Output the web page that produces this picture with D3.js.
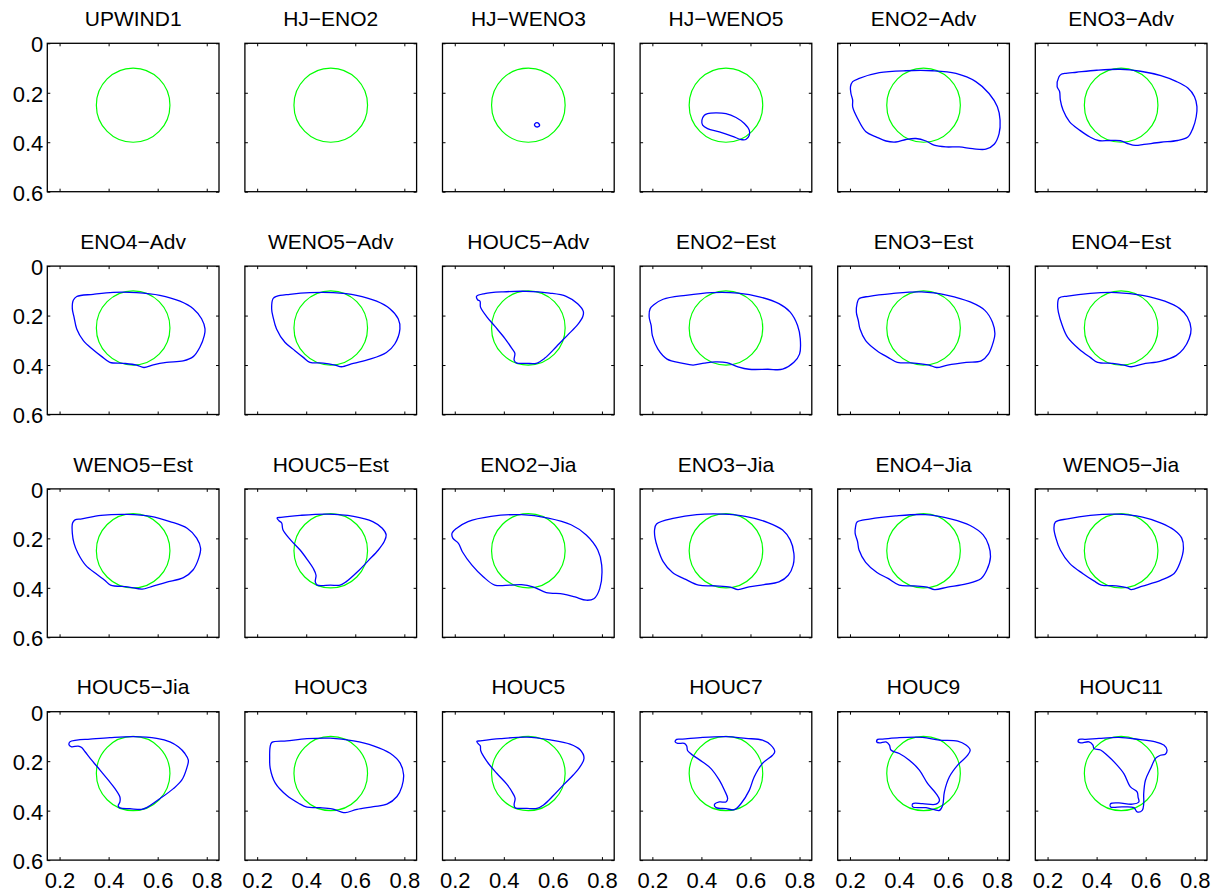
<!DOCTYPE html>
<html>
<head>
<meta charset="utf-8">
<script src="https://cdn.jsdelivr.net/npm/d3@7"></script>
<style>
  html, body { margin: 0; padding: 0; background: #fff; }
  svg text { font-family: "Liberation Sans", Arial, Helvetica, sans-serif; fill: #000; }
</style>
</head>
<body>
<svg id="chart" width="1218" height="892"></svg>
<script>
// Panel titles, in reading order (6 columns x 4 rows)
const titles = [
  "UPWIND1", "HJ\u2212ENO2", "HJ\u2212WENO3", "HJ\u2212WENO5", "ENO2\u2212Adv", "ENO3\u2212Adv",
  "ENO4\u2212Adv", "WENO5\u2212Adv", "HOUC5\u2212Adv", "ENO2\u2212Est", "ENO3\u2212Est", "ENO4\u2212Est",
  "WENO5\u2212Est", "HOUC5\u2212Est", "ENO2\u2212Jia", "ENO3\u2212Jia", "ENO4\u2212Jia", "WENO5\u2212Jia",
  "HOUC5\u2212Jia", "HOUC3", "HOUC5", "HOUC7", "HOUC9", "HOUC11"
];

// Axis ranges and ticks
const xDomain = [0.15, 0.85];
const yDomain = [0, 0.6];
const xTicks = [0.2, 0.4, 0.6, 0.8];
const yTicks = [0, 0.2, 0.4, 0.6];
const xTickLabels = ["0.2", "0.4", "0.6", "0.8"];
const yTickLabels = ["0", "0.2", "0.4", "0.6"];

// Exact interface: circle of radius 0.15 centred at (0.5, 0.25)
const circleCenter = [0.5, 0.25];
const circleRadius = 0.15;

// Computed interfaces (x, y) for each scheme
const upwind1 = null;
const hjEno2 = null;
const hjWeno3 = [[0.527,0.325],[0.535,0.321],[0.543,0.325],[0.546,0.332],[0.539,0.338],[0.530,0.337],[0.525,0.331]];
const hjWeno5 = [[0.412,0.291],[0.402,0.311],[0.405,0.331],[0.425,0.345],[0.473,0.358],[0.527,0.376],[0.561,0.389],[0.581,0.389],[0.595,0.372],[0.595,0.351],[0.575,0.324],[0.541,0.300],[0.500,0.284],[0.459,0.281],[0.425,0.284]];
const eno2Adv = [[0.211,0.155],[0.202,0.176],[0.204,0.203],[0.211,0.230],[0.211,0.257],[0.231,0.304],[0.265,0.358],[0.306,0.378],[0.347,0.395],[0.387,0.399],[0.428,0.389],[0.469,0.385],[0.510,0.395],[0.543,0.412],[0.591,0.419],[0.645,0.419],[0.700,0.426],[0.754,0.428],[0.788,0.408],[0.808,0.365],[0.812,0.311],[0.801,0.257],[0.767,0.203],[0.713,0.155],[0.632,0.122],[0.537,0.111],[0.428,0.111],[0.320,0.119],[0.238,0.142]];
const eno3Adv = [[0.256,0.125],[0.246,0.136],[0.239,0.175],[0.249,0.195],[0.252,0.229],[0.263,0.270],[0.290,0.318],[0.332,0.352],[0.373,0.379],[0.407,0.393],[0.455,0.393],[0.497,0.394],[0.531,0.407],[0.558,0.413],[0.593,0.409],[0.662,0.400],[0.730,0.393],[0.772,0.379],[0.792,0.345],[0.806,0.297],[0.809,0.256],[0.799,0.216],[0.772,0.181],[0.724,0.154],[0.662,0.131],[0.579,0.113],[0.497,0.105],[0.400,0.109],[0.318,0.117],[0.270,0.122]];
const eno4Adv = [[0.270,0.123],[0.256,0.138],[0.252,0.172],[0.259,0.206],[0.270,0.254],[0.297,0.301],[0.337,0.338],[0.371,0.365],[0.405,0.389],[0.460,0.393],[0.514,0.400],[0.544,0.410],[0.582,0.399],[0.636,0.389],[0.704,0.383],[0.745,0.366],[0.772,0.328],[0.790,0.281],[0.793,0.254],[0.779,0.213],[0.745,0.172],[0.691,0.142],[0.609,0.118],[0.514,0.107],[0.419,0.106],[0.337,0.114]];
const weno5Adv = [[0.279,0.122],[0.265,0.131],[0.259,0.172],[0.265,0.206],[0.279,0.254],[0.313,0.308],[0.354,0.342],[0.388,0.369],[0.415,0.389],[0.469,0.392],[0.517,0.400],[0.544,0.407],[0.592,0.393],[0.660,0.376],[0.727,0.349],[0.761,0.315],[0.782,0.254],[0.775,0.213],[0.741,0.172],[0.687,0.142],[0.605,0.118],[0.510,0.107],[0.415,0.107],[0.333,0.114]];
const houc5Adv = [[0.289,0.122],[0.293,0.136],[0.303,0.142],[0.305,0.166],[0.330,0.204],[0.364,0.244],[0.404,0.292],[0.432,0.332],[0.445,0.353],[0.442,0.380],[0.451,0.391],[0.492,0.393],[0.532,0.393],[0.566,0.373],[0.614,0.326],[0.661,0.278],[0.701,0.237],[0.722,0.204],[0.724,0.183],[0.701,0.152],[0.654,0.122],[0.586,0.109],[0.492,0.102],[0.397,0.104],[0.322,0.111]];
const eno2Est = [[0.206,0.156],[0.191,0.172],[0.187,0.206],[0.195,0.240],[0.200,0.281],[0.222,0.335],[0.260,0.376],[0.320,0.392],[0.366,0.400],[0.412,0.392],[0.457,0.387],[0.503,0.390],[0.549,0.407],[0.594,0.417],[0.671,0.417],[0.731,0.417],[0.777,0.389],[0.800,0.356],[0.803,0.294],[0.792,0.240],[0.762,0.186],[0.716,0.152],[0.640,0.125],[0.549,0.109],[0.442,0.107],[0.336,0.118],[0.244,0.134]];
const eno3Est = [[0.237,0.132],[0.229,0.152],[0.226,0.186],[0.234,0.220],[0.241,0.254],[0.264,0.301],[0.310,0.342],[0.355,0.369],[0.393,0.389],[0.462,0.392],[0.522,0.400],[0.553,0.410],[0.598,0.400],[0.674,0.389],[0.735,0.383],[0.765,0.355],[0.784,0.308],[0.791,0.274],[0.781,0.227],[0.750,0.179],[0.690,0.145],[0.598,0.118],[0.492,0.104],[0.370,0.111],[0.279,0.122]];
const eno4Est = [[0.247,0.129],[0.241,0.159],[0.244,0.186],[0.260,0.240],[0.282,0.288],[0.328,0.335],[0.374,0.369],[0.404,0.389],[0.465,0.393],[0.511,0.400],[0.541,0.407],[0.587,0.396],[0.663,0.384],[0.724,0.362],[0.754,0.335],[0.777,0.294],[0.785,0.254],[0.770,0.206],[0.739,0.172],[0.678,0.142],[0.587,0.118],[0.480,0.107],[0.374,0.110],[0.282,0.121]];
const weno5Est = [[0.263,0.125],[0.253,0.138],[0.252,0.179],[0.259,0.220],[0.275,0.260],[0.306,0.308],[0.353,0.346],[0.384,0.369],[0.408,0.389],[0.478,0.396],[0.537,0.405],[0.572,0.396],[0.634,0.378],[0.705,0.359],[0.744,0.328],[0.767,0.281],[0.775,0.240],[0.759,0.199],[0.720,0.159],[0.650,0.132],[0.572,0.111],[0.478,0.103],[0.369,0.107],[0.291,0.121]];
const houc5Est = [[0.281,0.118],[0.289,0.129],[0.300,0.138],[0.305,0.165],[0.336,0.206],[0.375,0.247],[0.406,0.288],[0.429,0.322],[0.440,0.349],[0.437,0.376],[0.445,0.389],[0.499,0.389],[0.538,0.389],[0.562,0.376],[0.609,0.335],[0.655,0.288],[0.694,0.247],[0.718,0.213],[0.726,0.186],[0.710,0.159],[0.671,0.132],[0.593,0.111],[0.484,0.102],[0.375,0.107],[0.297,0.115]];
const eno2Jia = [[0.208,0.159],[0.189,0.179],[0.192,0.199],[0.215,0.220],[0.231,0.254],[0.270,0.308],[0.316,0.355],[0.363,0.389],[0.425,0.389],[0.472,0.387],[0.519,0.396],[0.573,0.419],[0.643,0.425],[0.690,0.437],[0.736,0.450],[0.767,0.444],[0.791,0.403],[0.799,0.308],[0.783,0.247],[0.736,0.186],[0.674,0.145],[0.581,0.118],[0.472,0.104],[0.348,0.111],[0.254,0.132]];
const eno3Jia = [[0.217,0.142],[0.209,0.166],[0.211,0.199],[0.222,0.240],[0.244,0.294],[0.282,0.338],[0.336,0.366],[0.389,0.389],[0.457,0.392],[0.518,0.397],[0.549,0.407],[0.594,0.396],[0.655,0.387],[0.716,0.376],[0.754,0.349],[0.774,0.308],[0.777,0.261],[0.762,0.206],[0.731,0.166],[0.671,0.136],[0.579,0.111],[0.488,0.102],[0.381,0.104],[0.290,0.118]];
const eno4Jia = [[0.229,0.134],[0.223,0.152],[0.221,0.179],[0.231,0.213],[0.237,0.247],[0.264,0.297],[0.310,0.338],[0.355,0.362],[0.401,0.389],[0.462,0.392],[0.515,0.397],[0.545,0.407],[0.598,0.397],[0.674,0.384],[0.735,0.362],[0.758,0.328],[0.773,0.274],[0.765,0.227],[0.743,0.186],[0.690,0.148],[0.614,0.122],[0.507,0.104],[0.386,0.109],[0.279,0.122]];
const weno5Jia = [[0.232,0.134],[0.226,0.159],[0.234,0.199],[0.252,0.247],[0.290,0.301],[0.343,0.342],[0.389,0.372],[0.419,0.389],[0.480,0.392],[0.526,0.400],[0.541,0.407],[0.587,0.393],[0.663,0.369],[0.716,0.342],[0.739,0.301],[0.754,0.240],[0.747,0.199],[0.716,0.166],[0.663,0.138],[0.587,0.114],[0.480,0.102],[0.374,0.107],[0.282,0.121]];
const houc5Jia = [[0.242,0.122],[0.239,0.135],[0.249,0.142],[0.276,0.139],[0.290,0.145],[0.304,0.162],[0.331,0.196],[0.365,0.236],[0.399,0.277],[0.426,0.311],[0.446,0.345],[0.446,0.365],[0.439,0.381],[0.446,0.389],[0.487,0.392],[0.535,0.395],[0.555,0.388],[0.610,0.351],[0.664,0.311],[0.698,0.277],[0.718,0.230],[0.725,0.196],[0.711,0.169],[0.684,0.142],[0.650,0.122],[0.596,0.108],[0.501,0.101],[0.405,0.105],[0.324,0.111],[0.270,0.115]];
const houc3 = [[0.260,0.124],[0.253,0.141],[0.251,0.188],[0.253,0.228],[0.274,0.289],[0.321,0.339],[0.369,0.370],[0.403,0.386],[0.457,0.388],[0.505,0.393],[0.539,0.404],[0.559,0.408],[0.607,0.395],[0.674,0.384],[0.729,0.374],[0.770,0.343],[0.790,0.303],[0.797,0.255],[0.783,0.208],[0.742,0.168],[0.674,0.138],[0.593,0.118],[0.498,0.107],[0.403,0.109],[0.321,0.118]];
const houc5 = [[0.290,0.120],[0.297,0.131],[0.304,0.138],[0.306,0.158],[0.331,0.201],[0.371,0.249],[0.412,0.293],[0.437,0.330],[0.446,0.350],[0.442,0.377],[0.446,0.388],[0.494,0.391],[0.535,0.391],[0.562,0.377],[0.602,0.339],[0.643,0.296],[0.684,0.255],[0.711,0.222],[0.727,0.188],[0.711,0.154],[0.670,0.131],[0.589,0.114],[0.494,0.103],[0.385,0.109],[0.304,0.118]];
const houc7 = [[0.299,0.112],[0.293,0.122],[0.303,0.128],[0.330,0.128],[0.340,0.139],[0.344,0.158],[0.365,0.176],[0.405,0.203],[0.439,0.230],[0.473,0.277],[0.494,0.318],[0.507,0.351],[0.500,0.365],[0.473,0.365],[0.453,0.376],[0.460,0.388],[0.500,0.392],[0.534,0.396],[0.561,0.372],[0.595,0.318],[0.615,0.264],[0.649,0.209],[0.690,0.176],[0.699,0.162],[0.683,0.135],[0.649,0.115],[0.581,0.108],[0.500,0.101],[0.405,0.104],[0.323,0.111]];
const houc9 = [[0.313,0.112],[0.309,0.122],[0.320,0.126],[0.347,0.122],[0.361,0.135],[0.367,0.155],[0.401,0.169],[0.442,0.196],[0.483,0.236],[0.517,0.291],[0.551,0.331],[0.565,0.358],[0.551,0.374],[0.496,0.372],[0.456,0.372],[0.456,0.385],[0.510,0.388],[0.544,0.396],[0.565,0.399],[0.578,0.378],[0.585,0.324],[0.605,0.264],[0.639,0.216],[0.680,0.176],[0.690,0.155],[0.673,0.135],[0.639,0.119],[0.564,0.115],[0.496,0.104],[0.401,0.105],[0.333,0.111]];
const houc11 = [[0.329,0.112],[0.325,0.122],[0.335,0.126],[0.369,0.122],[0.385,0.135],[0.389,0.149],[0.416,0.155],[0.443,0.176],[0.477,0.209],[0.511,0.250],[0.538,0.304],[0.565,0.324],[0.569,0.345],[0.572,0.365],[0.545,0.374],[0.491,0.369],[0.457,0.372],[0.457,0.385],[0.505,0.385],[0.552,0.388],[0.565,0.405],[0.586,0.399],[0.592,0.372],[0.592,0.331],[0.599,0.277],[0.620,0.230],[0.640,0.189],[0.660,0.176],[0.680,0.172],[0.687,0.155],[0.674,0.135],[0.640,0.122],[0.572,0.112],[0.491,0.104],[0.410,0.108],[0.356,0.112]];

const interfaces = [
  upwind1, hjEno2, hjWeno3, hjWeno5, eno2Adv, eno3Adv,
  eno4Adv, weno5Adv, houc5Adv, eno2Est, eno3Est, eno4Est,
  weno5Est, houc5Est, eno2Jia, eno3Jia, eno4Jia, weno5Jia,
  houc5Jia, houc3, houc5, houc7, houc9, houc11
];

// Grid layout
const nCols = 6, nRows = 4;
const left0 = 47.3, top0 = 43.3;
const colPitch = 197.6, rowPitch = 222.8;
const pw = 171.7, ph = 148.4;
const titleSize = 21;
const tickSize = 22;

const svg = d3.select("#chart");

const x = d3.scaleLinear().domain(xDomain).range([0, pw]);
const y = d3.scaleLinear().domain(yDomain).range([0, ph]);

const line = d3.line()
  .x(d => x(d[0]))
  .y(d => y(d[1]))
  .curve(d3.curveCatmullRomClosed.alpha(0.5));

titles.forEach((title, i) => {
  const col = i % nCols, row = Math.floor(i / nCols);
  const g = svg.append("g")
    .attr("transform", `translate(${left0 + col * colPitch},${top0 + row * rowPitch})`);

  // Clip to axes box
  const clipId = `clip-${i}`;
  g.append("clipPath").attr("id", clipId)
    .append("rect").attr("width", pw).attr("height", ph);

  const plot = g.append("g").attr("clip-path", `url(#${clipId})`);

  // Exact circle
  plot.append("ellipse")
    .attr("cx", x(circleCenter[0]))
    .attr("cy", y(circleCenter[1]))
    .attr("rx", x(circleCenter[0] + circleRadius) - x(circleCenter[0]))
    .attr("ry", y(circleCenter[1] + circleRadius) - y(circleCenter[1]))
    .attr("fill", "none")
    .attr("stroke", "#00ff00")
    .attr("stroke-width", 1.2);

  // Computed interface
  const pts = interfaces[i];
  if (pts) {
    plot.append("path")
      .attr("d", line(pts))
      .attr("fill", "none")
      .attr("stroke", "#0000ff")
      .attr("stroke-width", 1.3);
  }

  // Axes: ticks pointing inward on all four sides
  const showX = row === nRows - 1;
  const showY = col === 0;

  const axB = d3.axisBottom(x).tickValues(xTicks).tickSizeInner(-3).tickSizeOuter(0).tickPadding(12)
    .tickFormat((d, k) => showX ? xTickLabels[k] : "");
  const axT = d3.axisTop(x).tickValues(xTicks).tickSizeInner(-3).tickSizeOuter(0).tickFormat("");
  const axL = d3.axisLeft(y).tickValues(yTicks).tickSizeInner(-3).tickSizeOuter(0).tickPadding(4)
    .tickFormat((d, k) => showY ? yTickLabels[k] : "");
  const axR = d3.axisRight(y).tickValues(yTicks).tickSizeInner(-3).tickSizeOuter(0).tickFormat("");

  const styleAxis = sel => {
    sel.select(".domain").remove();
    sel.selectAll("line").attr("stroke", "#000").attr("stroke-width", 1);
    sel.selectAll("text").attr("font-size", tickSize).attr("fill", "#000")
      .style("font-family", "'Liberation Sans', Arial, Helvetica, sans-serif");
  };

  g.append("g").attr("transform", `translate(0,${ph})`).call(axB).call(styleAxis);
  g.append("g").call(axT).call(styleAxis);
  g.append("g").call(axL).call(styleAxis).selectAll("text").attr("dy", "0.38em");
  g.append("g").attr("transform", `translate(${pw},0)`).call(axR).call(styleAxis);

  // Box
  g.append("rect")
    .attr("width", pw).attr("height", ph)
    .attr("fill", "none").attr("stroke", "#000").attr("stroke-width", 1.3);

  // Title
  g.append("text")
    .attr("x", pw / 2)
    .attr("y", -17.3)
    .attr("text-anchor", "middle")
    .attr("font-size", titleSize)
    .text(title);
});
</script>
</body>
</html>
